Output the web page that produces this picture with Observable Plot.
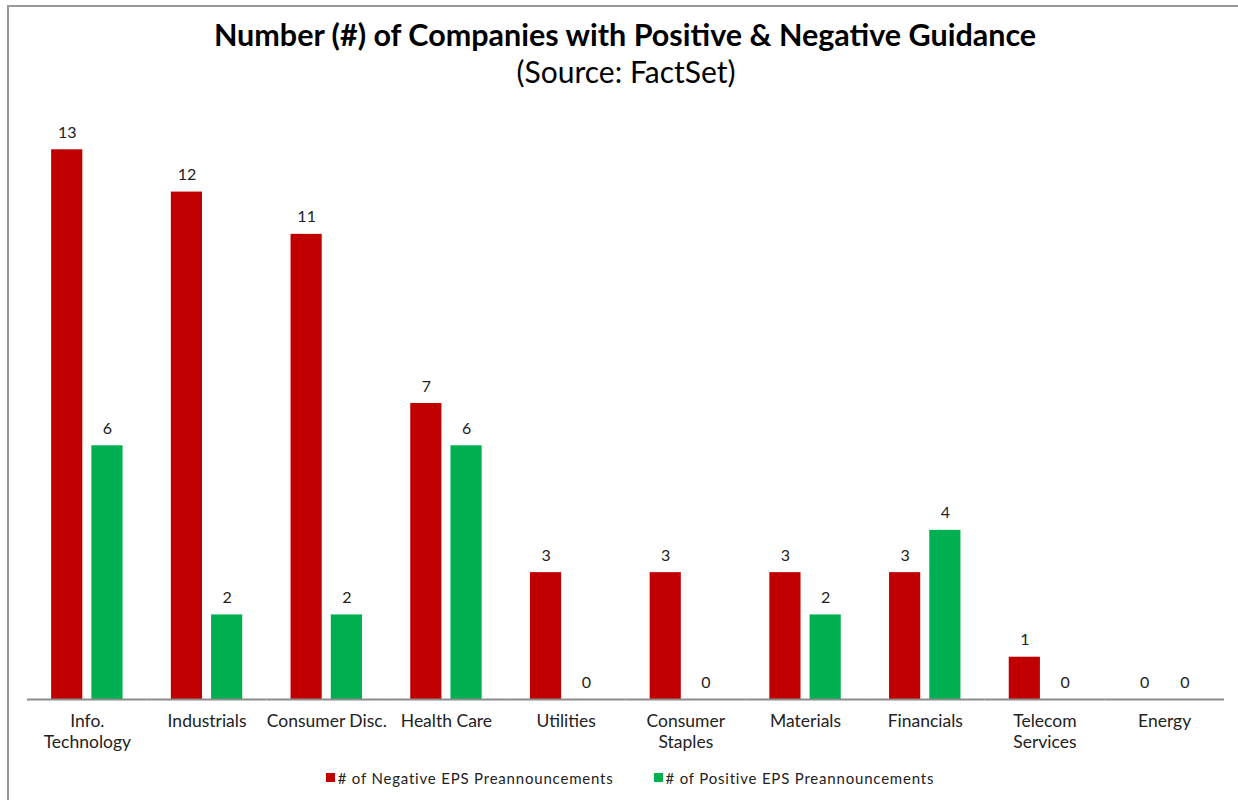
<!DOCTYPE html>
<html>
<head>
<meta charset="utf-8">
<script src="https://cdn.jsdelivr.net/npm/d3@7"></script>
<script src="https://cdn.jsdelivr.net/npm/@observablehq/plot@0.6"></script>
<style>
  html, body { margin: 0; padding: 0; background: #fff; width: 1238px; height: 800px; overflow: hidden; font-family: Lato, "Open Sans", sans-serif; }
  #frame { position: absolute; left: 7px; top: 5px; width: 1300px; height: 900px; border: 2px solid #9a9a9a; box-sizing: border-box; }
  #title { position: absolute; left: 0; width: 1250px; top: 16px; text-align: center; font-size: 30.5px; font-weight: 700; color: #000; white-space: nowrap; }
  #subtitle { position: absolute; left: 0; width: 1252px; top: 53px; text-align: center; font-size: 30px; color: #000; white-space: nowrap; }
  #chart { position: absolute; left: 0; top: 100px; }
  #legend { position: absolute; left: 0; width: 1260px; top: 767px; text-align: center; font-size: 15px; color: #222; letter-spacing: 0.8px; white-space: nowrap; }
  .item { display: inline-flex; align-items: center; margin: 0 20px; }
  .sw { width: 9px; height: 9px; margin-right: 3px; display: inline-block; }
</style>
</head>
<body>
<div id="frame"></div>
<div id="title">Number (#) of Companies with Positive &amp; Negative Guidance</div>
<div id="subtitle">(Source: FactSet)</div>
<div id="chart"></div>
<div id="legend"></div>
<script>
const categories = ["Info.\nTechnology", "Industrials", "Consumer Disc.", "Health Care", "Utilities", "Consumer\nStaples", "Materials", "Financials", "Telecom\nServices", "Energy"];
const negative = [13, 12, 11, 7, 3, 3, 3, 3, 1, 0];
const positive = [6, 2, 2, 6, 0, 0, 2, 4, 0, 0];
const seriesNames = ["# of Negative EPS Preannouncements", "# of Positive EPS Preannouncements"];
const seriesColors = ["#C00000", "#00B050"];

const data = categories.flatMap((c, i) => [
  {category: c, series: seriesNames[0], value: negative[i]},
  {category: c, series: seriesNames[1], value: positive[i]}
]);

const chart = Plot.plot({
  width: 1238,
  height: 660,
  marginLeft: 27,
  marginRight: 14,
  marginTop: 7,
  marginBottom: 61,
  style: {fontFamily: "Lato, 'Open Sans', sans-serif", color: "#222", background: "transparent"},
  fx: {domain: categories, padding: 0, round: false, label: null},
  x: {domain: seriesNames, paddingInner: 0.225, paddingOuter: 0.6, round: false, axis: null},
  y: {domain: [0, 14], axis: null},
  color: {domain: seriesNames, range: seriesColors},
  marks: [
    Plot.barY(data, {fx: "category", x: "series", y: "value", fill: "series"}),
    Plot.text(data, {fx: "category", x: "series", y: "value", text: d => String(d.value), dy: -17, fontSize: 16, fill: "#222"}),
    Plot.ruleY([0], {stroke: "#8c8c8c", strokeWidth: 2}),
    Plot.axisFx({anchor: "bottom", tickSize: 0, tickPadding: 13, fontSize: 17.5, lineHeight: 1.2, label: null, fill: "#222"})
  ]
});
document.getElementById("chart").appendChild(chart);

const legend = document.getElementById("legend");
seriesNames.forEach((name, i) => {
  const item = document.createElement("span");
  item.className = "item";
  const sw = document.createElement("span");
  sw.className = "sw";
  sw.style.background = seriesColors[i];
  item.appendChild(sw);
  item.appendChild(document.createTextNode(name));
  legend.appendChild(item);
});
</script>
</body>
</html>
